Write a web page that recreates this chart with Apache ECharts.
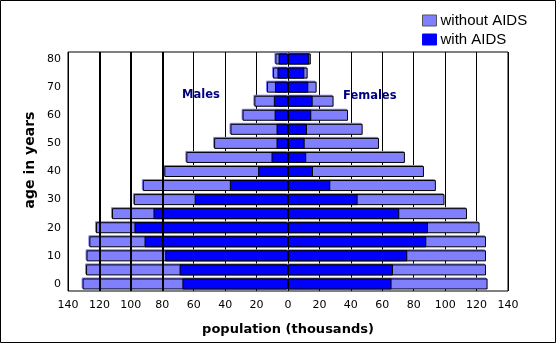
<!DOCTYPE html>
<html>
<head>
<meta charset="utf-8">
<script src="https://cdn.jsdelivr.net/npm/echarts@6/dist/echarts.min.js"></script>
<style>
html,body{margin:0;padding:0;background:#fff;}
#chart{width:557px;height:344px;}
</style>
</head>
<body>
<div id="chart"></div>
<script>
var ages = ['0','5','10','15','20','25','30','35','40','45','50','55','60','65','70','75','80'];
var xTicks = [-140,-120,-100,-80,-60,-40,-20,0,20,40,60,80,100,120,140];
var maleWithout = [130.7,128.5,128.2,126.4,122.2,112,98.1,92.4,78.7,64.7,47,36.6,28.9,21.4,13.4,9.5,8];
var maleWith = [67.2,69,78.1,91.3,97.7,85.6,59.4,37,19,10.5,7.3,7.3,8.5,9,8.3,6.7,6];
var femaleWithout = [127,126,126,126,121.9,113.9,99.6,94.1,86.5,74.4,57.9,47.5,38.2,29,18.2,12.5,14.5];
var femaleWith = [65.9,66.8,75.9,88,89.1,70.8,44.3,26.9,15.9,11.6,10.6,12.1,14.8,15.7,12.9,10.4,13.5];
var legendNames = ['without AIDS','with AIDS'];
var sideLabels = ['Males','Females'];
var thickGrid = [-120,-100,-80];

var LIGHT = '#8080ff', BLUE = '#0000ff';
var neg = function(a){ return a.map(function(v){ return -v; }); };

var chart = echarts.init(document.getElementById('chart'), null, {renderer:'canvas'});
var lightStyle = {color: LIGHT, borderColor:'#000', borderWidth:1, shadowColor: LIGHT, shadowOffsetX:-1, shadowOffsetY:-1, shadowBlur:0};
var blueStyle = {color: BLUE, borderColor:'#000', borderWidth:1};
chart.setOption({
  animation:false,
  backgroundColor:'#fff',
  legend:{
    data:[{name:legendNames[0], itemStyle:{color:LIGHT, borderColor:'#555', borderWidth:1}}, {name:legendNames[1], itemStyle:{color:BLUE, borderColor:BLUE, borderWidth:1}}],
    orient:'vertical',
    left:422, top:13, padding:0,
    icon:'rect',
    itemWidth:14, itemHeight:11, itemGap:4,
    textStyle:{fontFamily:'Liberation Sans', fontSize:15, lineHeight:13, color:'#000', padding:[0,0,0,-1]},
    selectedMode:false
  },
  grid:{left:68, right:49, top:52, bottom:53, show:true, borderColor:'#000', borderWidth:1, backgroundColor:'transparent'},
  xAxis:{
    type:'value', min:xTicks[0], max:xTicks[xTicks.length-1], interval:20,
    axisLine:{show:false}, axisTick:{show:false},
    splitLine:{show:true, lineStyle:{color:'#000', width:1}},
    axisLabel:{margin:9, color:'#000', fontFamily:'DejaVu Sans', fontSize:11, formatter:function(v){return Math.abs(v);}},
    name:'population (thousands)', nameLocation:'middle', nameGap:32,
    nameTextStyle:{fontFamily:'DejaVu Sans', fontWeight:'bold', fontSize:13, color:'#000'}
  },
  yAxis:{
    type:'category', data:ages,
    axisLine:{show:false}, axisTick:{show:false},
    axisLabel:{margin:7, color:'#000', fontFamily:'DejaVu Sans', fontSize:11}
  },
  graphic:[
    {type:'rect', shape:{x:0.5,y:0.5,width:555,height:342}, style:{fill:'none', stroke:'#000', lineWidth:1}, silent:true},
    {type:'text', x:30, y:160, rotation:Math.PI/2, style:{text:'age in years', font:'bold 14px "DejaVu Sans"', fill:'#000', textAlign:'center', textVerticalAlign:'middle'}},
    {type:'text', x:182, y:95, z:100, style:{text:sideLabels[0], font:'bold 11.5px "DejaVu Sans"', fill:'#000080', textVerticalAlign:'middle'}},
    {type:'text', x:343, y:96, z:100, style:{text:sideLabels[1], font:'bold 11.5px "DejaVu Sans"', fill:'#000080', textVerticalAlign:'middle'}}
  ],
  series:[
    {type:'bar', data:[], z:1, silent:true,
     markLine:{silent:true, symbol:['none','none'], label:{show:false}, lineStyle:{color:'#000', width:2, type:'solid'},
       data:thickGrid.map(function(v){ return {xAxis:v}; })}},
    {name:legendNames[0], type:'bar', stack:'without', data:neg(maleWithout), barWidth:11, barGap:'-100%', itemStyle:lightStyle},
    {name:legendNames[0], type:'bar', stack:'without', data:femaleWithout, barWidth:11, barGap:'-100%', itemStyle:lightStyle},
    {name:legendNames[1], type:'bar', stack:'with', data:neg(maleWith), barWidth:11, barGap:'-100%', itemStyle:blueStyle},
    {name:legendNames[1], type:'bar', stack:'with', data:femaleWith, barWidth:11, barGap:'-100%', itemStyle:blueStyle}
  ]
});
</script>
</body>
</html>
